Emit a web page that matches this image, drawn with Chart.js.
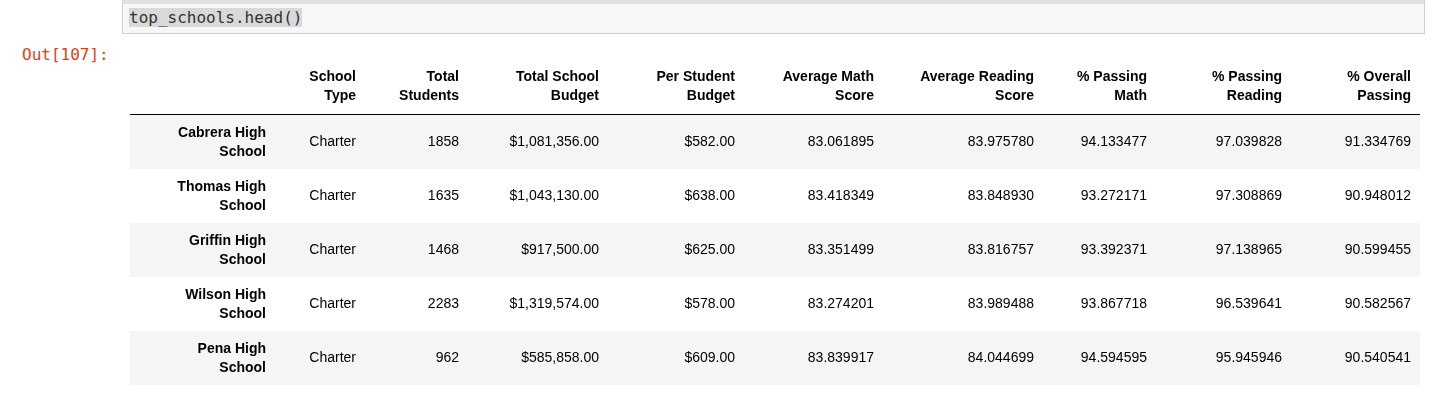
<!DOCTYPE html>
<html>
<head>
<meta charset="utf-8">
<script src="https://cdn.jsdelivr.net/npm/chart.js@4"></script>
<style>
  body { margin: 0; background: #fff; font-family: "Liberation Sans", Arial, sans-serif; }
  #code { position: absolute; left: 122px; top: -1px; width: 1303px; height: 35px; background: #f7f7f7; border: 1px solid #cfcfcf; border-top: 5px solid #e0e0e0; box-sizing: border-box; }
  #code span { position: absolute; left: 6px; top: 4px; font: 16px "DejaVu Sans Mono", monospace; color: #333; background: #d9d9d9; }
  #out { position: absolute; left: 22px; top: 45px; font: 16px "DejaVu Sans Mono", monospace; color: #d84315; }
  #wrap { position: absolute; left: 130px; top: 61px; width: 1290px; height: 324px; }
</style>
</head>
<body>
<div id="code"><span>top_schools.head()</span></div>
<div id="out">Out[107]:</div>
<div id="wrap"><canvas id="tbl"></canvas></div>
<script>
const headers = [
  ["", ""], ["School", "Type"], ["Total", "Students"], ["Total School", "Budget"],
  ["Per Student", "Budget"], ["Average Math", "Score"], ["Average Reading", "Score"],
  ["% Passing", "Math"], ["% Passing", "Reading"], ["% Overall", "Passing"]
];
const schools = ["Cabrera High School", "Thomas High School", "Griffin High School", "Wilson High School", "Pena High School"];
const schoolType = ["Charter", "Charter", "Charter", "Charter", "Charter"];
const totalStudents = ["1858", "1635", "1468", "2283", "962"];
const totalBudget = ["$1,081,356.00", "$1,043,130.00", "$917,500.00", "$1,319,574.00", "$585,858.00"];
const perStudent = ["$582.00", "$638.00", "$625.00", "$578.00", "$609.00"];
const avgMath = ["83.061895", "83.418349", "83.351499", "83.274201", "83.839917"];
const avgReading = ["83.975780", "83.848930", "83.816757", "83.989488", "84.044699"];
const passMath = ["94.133477", "93.272171", "93.392371", "93.867718", "94.594595"];
const passReading = ["97.039828", "97.308869", "97.138965", "96.539641", "95.945946"];
const overall = ["91.334769", "90.948012", "90.599455", "90.582567", "90.540541"];

const columns = [schoolType, totalStudents, totalBudget, perStudent, avgMath, avgReading, passMath, passReading, overall];
// right edge of each column, in x-scale units (pixels from table left)
const colRight = [136, 226, 329, 469, 605, 744, 904, 1017, 1152, 1281];
const rowKeys = ["header"].concat(schools);

const tablePlugin = {
  id: "tablePlugin",
  beforeDraw(chart) {
    const c = chart.ctx, x = chart.scales.x, y = chart.scales.y;
    const half = (y.getPixelForValue(1) - y.getPixelForValue(0)) / 2;
    c.save();
    for (let r = 1; r < rowKeys.length; r++) {
      if (r % 2 === 1) {
        c.fillStyle = "#f5f5f5";
        c.fillRect(x.left, y.getPixelForValue(r) - half, x.right - x.left, half * 2);
      }
    }
    c.fillStyle = "#000";
    c.fillRect(x.left, Math.round(y.getPixelForValue(0) + half) - 1, x.right - x.left, 1);
    c.textAlign = "right";
    c.textBaseline = "middle";
    c.fillStyle = "#000";
    c.font = "bold 14px 'Liberation Sans', Arial, sans-serif";
    const hy = y.getPixelForValue(0);
    headers.forEach((h, i) => {
      c.fillText(h[0], x.getPixelForValue(colRight[i]), hy - 11);
      c.fillText(h[1], x.getPixelForValue(colRight[i]), hy + 8);
    });
    schools.forEach((s, r) => {
      const cy = y.getPixelForValue(r + 1);
      const parts = s.split(" ");
      c.font = "bold 14px 'Liberation Sans', Arial, sans-serif";
      c.fillText(parts.slice(0, -1).join(" "), x.getPixelForValue(colRight[0]), cy - 9);
      c.fillText(parts[parts.length - 1], x.getPixelForValue(colRight[0]), cy + 10);
      c.font = "14px 'Liberation Sans', Arial, sans-serif";
      columns.forEach((col, j) => {
        c.fillText(col[r], x.getPixelForValue(colRight[j + 1]), cy);
      });
    });
    c.restore();
  }
};

new Chart(document.getElementById("tbl"), {
  type: "bar",
  data: { labels: rowKeys, datasets: [{ data: [], backgroundColor: "transparent" }] },
  options: {
    indexAxis: "y",
    responsive: true,
    maintainAspectRatio: false,
    animation: false,
    layout: { padding: 0 },
    plugins: { legend: { display: false }, tooltip: { enabled: false } },
    scales: {
      x: { type: "linear", min: 0, max: 1290, display: false },
      y: { type: "category", offset: true, display: false }
    }
  },
  plugins: [tablePlugin]
});
</script>
</body>
</html>
